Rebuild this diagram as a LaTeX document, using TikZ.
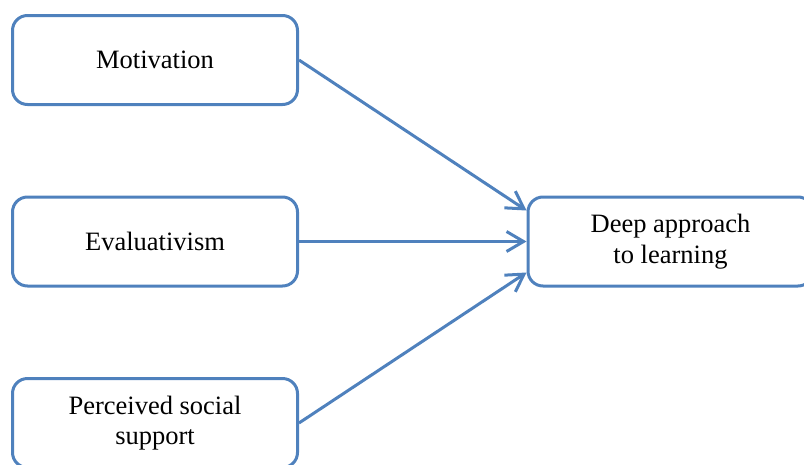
\documentclass[tikz,border=0pt]{standalone}
\usepackage{fontspec}
\setmainfont{Liberation Serif}
\usetikzlibrary{arrows.meta}
\definecolor{boxblue}{RGB}{79,129,189}

\begin{document}
\begin{tikzpicture}[x=1pt,y=-1pt,line width=3pt,
  factor/.style={draw=boxblue,rectangle,rounded corners=15pt,minimum width=285pt,
    minimum height=89pt,align=center,font=\fontsize{26.5}{30.5}\selectfont},
  path/.style={draw=boxblue,-{Straight Barb[length=17pt,width=20pt]}}]
\useasboundingbox (0,0) rectangle (804,464);
\node[factor] (mot) at (155,60) {Motivation};
\node[factor] (eval) at (155,241.5) {Evaluativism};
\node[factor] (soc) at (155,423) {Perceived social\\support};
\node[factor] (deep) at (670.5,241.5) {Deep approach\\to learning};
\draw[path] (mot.east) -- ([yshift=31pt]deep.west);
\draw[path] (eval) -- (deep);
\draw[path] (soc.east) -- ([yshift=-31pt]deep.west);
\end{tikzpicture}
\end{document}
